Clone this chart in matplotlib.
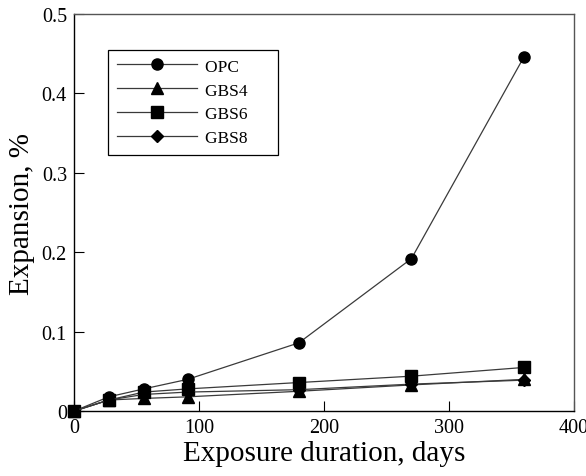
import matplotlib
matplotlib.use("Agg")
import matplotlib.pyplot as plt

# exposure duration (days) and expansion (%) for each mix
days = [0, 28, 56, 91, 180, 270, 360]
opc = [0.0, 0.018, 0.028, 0.040, 0.086, 0.192, 0.446]
gbs4 = [0.0, 0.014, 0.016, 0.018, 0.025, 0.033, 0.040]
gbs6 = [0.0, 0.014, 0.024, 0.028, 0.036, 0.044, 0.055]
gbs8 = [0.0, 0.014, 0.021, 0.024, 0.027, 0.034, 0.039]

series = [
    ("OPC", opc, "o", 8),
    ("GBS4", gbs4, "^", 8),
    ("GBS6", gbs6, "s", 8),
    ("GBS8", gbs8, "D", 6.5),
]

plt.rcParams["font.family"] = ["Liberation Serif", "DejaVu Serif"]

fig = plt.figure(figsize=(5.86, 4.77), dpi=100)
ax = fig.add_axes([0.126, 0.136, 0.8535, 0.8326])

for name, vals, mk, ms in series:
    ax.plot(days, vals, color="#3a3a3a", linewidth=0.9, marker=mk,
            markersize=ms, markerfacecolor="black", markeredgecolor="black",
            label=name + "     ", clip_on=False, zorder=3)

ax.set_xlim(0, 400)
ax.set_ylim(0, 0.5)
ax.set_xticks([0, 100, 200, 300, 400])
ax.set_xticklabels(["0", "100", "200", "300", "400"])
ax.set_yticks([0, 0.1, 0.2, 0.3, 0.4, 0.5])
ax.set_yticklabels(["0", "0.1", "0.2", "0.3", "0.4", "0.5"])
ax.tick_params(direction="in", length=7, width=0.8, labelsize=14.5, pad=5)

for side in ["left", "bottom"]:
    ax.spines[side].set_color("black")
    ax.spines[side].set_linewidth(1.0)
for side in ["top", "right"]:
    ax.spines[side].set_color("#555555")
    ax.spines[side].set_linewidth(1.0)

ax.set_xlabel("Exposure duration, days", fontsize=21, labelpad=2)
ax.set_ylabel("Expansion, %", fontsize=21, labelpad=5)

leg = ax.legend(loc="upper left", bbox_to_anchor=(0.068, 0.91),
                fontsize=12.5, frameon=True, fancybox=False, framealpha=1,
                edgecolor="black", handlelength=4.65, handletextpad=0.46,
                borderpad=0.5, labelspacing=0.45, borderaxespad=0)
leg.get_frame().set_linewidth(0.9)

fig.savefig("out.png", dpi=100)
